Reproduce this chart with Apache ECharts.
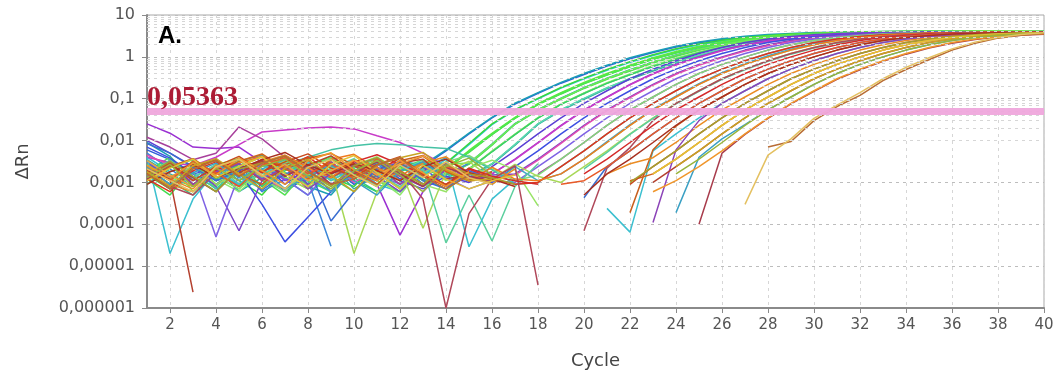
<!DOCTYPE html>
<html>
<head>
<meta charset="utf-8">
<script src="https://cdn.jsdelivr.net/npm/echarts@6/dist/echarts.min.js"></script>
<style>
html, body { margin: 0; padding: 0; background: #ffffff; }
#chart { width: 1058px; height: 382px; }
</style>
</head>
<body>
<div id="chart"></div>
<script>
// Amplification plot: delta Rn per cycle on a log scale, one line per well.
const _ = null; // no positive reading at that cycle

const cycles = [1,2,3,4,5,6,7,8,9,10,11,12,13,14,15,16,17,18,19,20,
                21,22,23,24,25,26,27,28,29,30,31,32,33,34,35,36,37,38,39,40];
const xTicks = [2,4,6,8,10,12,14,16,18,20,22,24,26,28,30,32,34,36,38,40];
const yTicks = [0.000001,0.00001,0.0001,0.001,0.01,0.1,1,10];
const yTickLabels = ['0,000001','0,00001','0,0001','0,001','0,01','0,1','1','10'];
const threshold = 0.05363;

// Earliest wells (blue / green)
const earlyRuns = [
  [.006,.0035,.0016,.0021,.0008,.0019,.0006,.0014,.0026,.0009, .0017,.0007,.0024,.0057,.0145,.035,.074,.135,.235,.38, .6,.9,1.27,1.71,2.16,2.6,2.95,3.22,3.43,3.58, 3.7,3.77,3.82,3.86,3.88,3.9,3.92,3.93,3.94,3.95],
  [.009,.0042,.0011,.0024,.0006,.0013,.0029,.0008,.0005,.0021, .0011,.0032,.0026,.006,.015,.036,.078,.14,.245,.40, .63,.95,1.33,1.8,2.27,2.72,3.1,3.4,3.62,3.8, 3.92,4.0,4.05,4.08,4.1,4.12,4.13,4.14,4.15,4.15],
  [.004,.0018,.0028,.0007,.0019,.0031,.0012,.0005,.0016,.0027, .0009,.0006,.0018,.0028,.008,.024,.054,.10,.18,.30, .48,.74,1.08,1.5,1.95,2.4,2.8,3.1,3.35,3.52, 3.65,3.74,3.8,3.85,3.88,3.9,3.91,3.92,3.93,3.94],
  [.0015,.0007,.0026,.0033,.0011,.0005,.0021,.0034,.0013,.0008, .0029,.0012,.0021,.0029,.0085,.025,.055,.102,.185,.31, .5,.77,1.12,1.56,2.03,2.5,2.92,3.24,3.5,3.68, 3.82,3.91,3.97,4.01,4.04,4.06,4.07,4.08,4.09,4.1],
  [.002,.0031,.0006,.0017,.0024,.0041,.0013,.0007,.0022,.0035, .0011,.0006,.0019,.002,.0055,.014,.035,.074,.135,.235, .38,.6,.9,1.27,1.71,2.16,2.6,2.95,3.22,3.43, 3.58,3.7,3.77,3.82,3.86,3.88,3.9,3.91,3.92,3.93],
  [.0012,.0005,.0023,.0014,.0007,.0026,.0038,.0019,.0009,.0014, .0033,.0024,.0011,.0022,.0052,.0138,.034,.072,.13,.228, .37,.58,.87,1.23,1.66,2.1,2.52,2.86,3.12,3.32, 3.46,3.56,3.62,3.66,3.69,3.71,3.72,3.73,3.74,3.75],
  [.003,.0013,.0008,.0027,.0036,.0011,.0007,.0024,.0042,.0017, .0009,.0021,.0035,.0021,.0058,.0148,.036,.076,.14,.245, .4,.63,.95,1.34,1.8,2.28,2.75,3.13,3.42,3.65, 3.82,3.95,4.03,4.09,4.13,4.16,4.18,4.19,4.2,4.21],
  [.0025,.0011,.0005,.0019,.0008,.0028,.0037,.0009,.0021,.0013, .0006,.0024,.0031,.0013,.0028,.008,.025,.054,.10,.18, .30,.48,.74,1.08,1.5,1.95,2.4,2.8,3.1,3.35, 3.52,3.65,3.74,3.8,3.85,3.88,3.9,3.91,3.92,3.93],
  [.0018,.004,.0014,.0006,.0029,.0012,.0005,.0022,.0039,.0016, .0008,.0027,.0011,.0016,.0027,.0078,.0245,.053,.098,.176, .29,.46,.71,1.03,1.43,1.86,2.28,2.66,2.95,3.18, 3.34,3.46,3.54,3.59,3.63,3.65,3.67,3.68,3.69,3.7],
  [.005,.0021,.0009,.0016,.0027,.0006,.0012,.0011,3e-5,_, .0013,.0028,.0009,.0015,.0029,.0082,.0255,.055,.103,.184, .31,.49,.76,1.11,1.54,2.0,2.46,2.87,3.18,3.43, 3.6,3.73,3.82,3.88,3.92,3.95,3.97,3.98,3.99,4.0],
  [.0014,.0033,.0009,.0024,.0038,.0014,.0007,.0026,.0011,.0022, .0036,.0015,.0008,.0017,.002,.0055,.014,.035,.074,.135, .235,.38,.6,.9,1.27,1.71,2.16,2.6,2.95,3.22, 3.43,3.58,3.7,3.77,3.82,3.86,3.88,3.9,3.91,3.92],
  [.0022,.0009,.0034,.0012,.0006,.0018,.0031,.0015,.0007,.0028, .0013,.0005,.0024,.0011,.0021,.0056,.0142,.0355,.075,.137, .24,.39,.62,.93,1.31,1.77,2.24,2.7,3.07,3.36, 3.58,3.74,3.86,3.94,3.99,4.03,4.05,4.07,4.08,4.09],
  [.0017,.0007,.0025,.0011,.0028,.0008,.0019,.0036,.0013,.0006, .0023,.0009,.0031,.0016,.0013,.0028,.008,.025,.054,.10, .18,.30,.48,.74,1.08,1.5,1.95,2.4,2.8,3.1, 3.35,3.52,3.65,3.74,3.8,3.85,3.88,3.9,3.91,3.92],
  [.0035,.0016,.0008,.0021,.0032,.0045,.0017,.0009,.0026,.0007, .0015,.0031,.0012,.0007,.0015,.0027,.0078,.0243,.052,.097, .174,.29,.46,.71,1.03,1.43,1.86,2.28,2.65,2.94, 3.16,3.32,3.43,3.5,3.55,3.58,3.6,3.61,3.62,3.63],
  [.0028,.0012,.0031,.0009,.0022,.0014,.0035,.0011,.0006,.0024, .0017,.0038,.0015,.0022,.0054,.0142,.0345,.073,.133,.232, .375,.59,.88,1.25,1.69,2.14,2.57,2.92,3.19,3.4, 3.55,3.66,3.73,3.78,3.82,3.84,3.86,3.87,3.88,3.89],
  [.0016,.0034,.0013,.0008,.0025,.0041,.0017,.0009,.0028,.0013, .0021,.0007,.0016,.0027,.0029,.0081,.0252,.055,.101,.182, .305,.485,.75,1.1,1.52,1.98,2.43,2.83,3.14,3.39, 3.57,3.7,3.79,3.85,3.89,3.92,3.94,3.95,3.96,3.97],
  [.0009,.0023,.0035,.0012,.0019,.0008,.0026,.0014,.0031,.0011, .0006,.0018,.0029,.0013,.0021,.0054,.0138,.0345,.073,.133, .232,.375,.59,.88,1.25,1.69,2.14,2.57,2.92,3.19, 3.4,3.55,3.66,3.73,3.78,3.82,3.84,3.86,3.87,3.88],
  [.0031,.0014,.0022,.0037,.0013,.0007,.0021,.0029,.0012,.0026, .0009,.0019,.0034,.0014,.0011,.0028,.0081,.0252,.055,.102, .183,.305,.49,.755,1.1,1.53,1.99,2.45,2.86,3.17, 3.42,3.6,3.73,3.82,3.88,3.92,3.95,3.97,3.98,3.99]
];

// Second wave (purple / violet / magenta)
const midRuns = [
  [.01,.005,.0024,.0011,.0019,.0031,.0009,.0022,.0006,.0017, .0028,.0011,.0007,.0014,.001,.0024,.0057,.0145,.035,.077, .155,.3,.51,.81,1.2,1.68,2.2,2.67,3.07,3.37, 3.57,3.7,3.79,3.85,3.88,3.9,3.91,3.92,3.93,3.93],
  [.025,.015,.007,.0065,.007,.003,.0011,.0024,.0009,.002, .0009,5.5e-5,.0006,.0021,.0012,.0016,.0036,.009,.023,.054, .11,.22,.40,.66,1.0,1.45,1.95,2.45,2.9,3.25, 3.5,3.65,3.75,3.82,3.87,3.9,3.91,3.92,3.93,3.94],
  [.004,.003,.0025,.004,.008,.016,.018,.02,.021,.019, .013,.009,.005,.0025,.0018,.0016,.0035,.0088,.0225,.053, .108,.215,.39,.64,.97,1.4,1.88,2.36,2.78,3.1, 3.32,3.46,3.55,3.6,3.63,3.65,3.66,3.67,3.68,3.68],
  [.007,.0038,.0016,.0009,.0018,.0003,3.8e-5,.00015,.0006,.0019, .0031,.0012,.0023,.0008,.0016,.001,.0024,.0057,.0145,.035, .077,.155,.3,.51,.81,1.2,1.68,2.2,2.67,3.07, 3.37,3.57,3.7,3.79,3.85,3.88,3.9,3.91,3.92,3.92],
  [.003,.0013,.0024,.0008,7e-5,.0011,.0025,.0009,.0017,.0032, .0014,.0006,.0021,.0028,.0011,.0015,.0016,.0036,.009,.023, .054,.11,.22,.40,.66,1.0,1.45,1.95,2.45,2.9, 3.25,3.5,3.65,3.75,3.82,3.87,3.9,3.91,3.92,3.93],
  [.0045,.0026,.0011,.0022,.0035,.0013,.0007,.0018,.0027,.001, .0019,.0033,.0016,.0008,.0021,.0013,.0015,.0034,.0086,.022, .052,.106,.212,.385,.63,.96,1.38,1.85,2.32,2.74, 3.06,3.28,3.42,3.51,3.57,3.6,3.62,3.63,3.64,3.65],
  [.0016,.0008,.0019,5e-5,.0015,.0027,.0012,.0005,.0021,.0034, .0016,.0009,.0025,.0013,.0007,.0011,.001,.0024,.0057,.0145, .035,.077,.155,.3,.51,.81,1.2,1.68,2.2,2.67, 3.07,3.37,3.57,3.7,3.79,3.85,3.88,3.9,3.91,3.92],
  [.012,.007,.0035,.005,.021,.011,.004,.0016,.0031,.0012, .0024,.0009,.0018,.0029,.0013,.0018,_,.0016,.0036,.009, .023,.054,.11,.22,.40,.66,1.0,1.45,1.95,2.45, 2.9,3.25,3.5,3.65,3.75,3.82,3.87,3.9,3.9,3.91]
];

// Third wave (pale green / teal / cyan)
const tealRuns = [
  [.0013,.0029,.0008,.0017,.0034,.0012,.0006,.0023,.0038,.0014, .0009,.0027,.0017,.0031,.0044,.0021,.0011,.0015,.0036,.009, .023,.054,.11,.22,.40,.66,1.0,1.45,1.95,2.45, 2.9,3.25,3.5,3.65,3.75,3.82,3.87,3.9,3.9,3.91],
  [.0021,.0009,.0017,.0007,.0024,.0013,.0027,.004,.006,.0075, .0085,.008,.007,.0065,.004,.002,.0009,.001,.0024,.0057, .0145,.035,.077,.155,.3,.51,.81,1.2,1.68,2.2, 2.67,3.07,3.37,3.57,3.7,3.79,3.85,3.88,3.9,3.91],
  [.0011,.0024,.0037,.0014,.0007,.0019,.0033,.0016,.0008,.0025, .0041,.0018,.0009,.0006,.0022,.0034,.002,.00028,_,.0036, .009,.023,.054,.11,.22,.40,.66,1.0,1.45,1.95, 2.45,2.9,3.25,3.5,3.65,3.75,3.82,3.87,3.9,3.91],
  [.0019,.0007,.0013,.0026,.0011,.0021,.0035,.0013,.0006,.0017, .0029,.0011,.0022,.0039,.0016,.0009,.0024,.0011,.0016,.0036, .0095,.024,.056,.115,.23,.42,.7,1.06,1.53,2.05, 2.57,3.03,3.38,3.62,3.78,3.88,3.94,3.98,4.0,4.02],
  [.0024,.0011,.0026,.0009,.0017,.0031,.0014,.0007,.0021,2e-5, .0006,.0023,8e-5,.0018,.0032,.0012,.0027,.0014,.001,.0024, .0057,.0145,.035,.077,.155,.3,.51,.81,1.2,1.68, 2.2,2.67,3.07,3.37,3.57,3.7,3.79,3.85,3.88,3.9],
  [.0015,.0034,.0013,.0027,.0009,.0016,.0029,.0011,.0022,.0037, .0015,.0008,.0021,3.6e-5,.0005,4e-5,.0008,.0028,_,.0021, .0052,.014,.034,.075,.15,.29,.49,.78,1.16,1.62, 2.12,2.58,2.97,3.26,3.46,3.58,3.66,3.71,3.74,3.76],
  [.004,2e-5,.0004,.0019,.0009,.0026,.0014,.0031,.0011,.0021, .0008,.0027,.0015,.0036,2.9e-5,.0004,.0012,_,_,_, .00024,6.5e-5,.0057,.0145,.035,.077,.155,.3,.51,.81, 1.2,1.68,2.2,2.67,3.07,3.37,3.57,3.7,3.79,3.85]
];

// Fourth wave (red / orange / brown, a few blue and purple)
const lateRuns = [
  [.0012,.0006,.0019,.0031,.0014,.0036,.0022,.0041,.0017,.0033, .0019,.0038,.0015,.0008,.0021,.0012,.0009,.001,.0024,.0057, .0145,.035,.077,.155,.3,.51,.81,1.2,1.68,2.2, 2.67,3.07,3.37,3.57,3.7,3.79,3.85,3.9,3.93,3.95],
  [.002,.0009,.0006,.0021,.0029,.0042,.0024,.0013,.0036,.0047, .0021,.0014,.0031,.0019,.0011,.0023,.0012,.0011,.0016,.0036, .009,.023,.054,.11,.22,.40,.66,1.0,1.45,1.95, 2.45,2.9,3.25,3.5,3.65,3.75,3.82,3.87,3.92,3.96],
  [.0016,.0008,.0005,.0017,.0028,.0011,.0021,.0034,.0013,.0025, .0012,.0019,.0004,1e-6,.00018,.0012,.0025,3.5e-6,_,7e-5, .0022,.0068,.03,.077,.155,.3,.51,.81,1.2,1.68, 2.2,2.67,3.07,3.37,3.57,3.7,3.79,3.85,3.88,3.9],
  [.0013,.0028,.0009,.0019,.0037,.0017,.0044,.0023,.0013,.0031, .0046,.0027,.0016,.0009,.0022,.0014,.0011,.0009,_,.0016, .0036,.009,.023,.054,.11,.22,.40,.66,1.0,1.45, 1.95,2.45,2.9,3.25,3.5,3.65,3.75,3.82,3.87,3.9],
  [.0017,.0008,.0023,.0035,.0016,.0009,.0027,.0038,.0049,.0026, .0015,.0033,.0044,.0021,.0011,.0018,_,_,_,_, _,.00019,.006,.022,.054,.11,.22,.40,.66,1.0, 1.45,1.95,2.45,2.9,3.25,3.5,3.65,3.75,3.82,3.87],
  [.0085,.005,.0023,.0011,.0019,.00065,.0016,.0024,.00012,.0006, .0021,.0029,.0011,.0007,.0019,.0012,_,_,_,.00043, .0024,.0057,.0145,.035,.077,.155,.3,.51,.81,1.2, 1.68,2.2,2.67,3.07,3.37,3.57,3.7,3.79,3.85,3.88],
  [.0024,.0012,.0007,.0026,.0015,.0031,.0045,.0022,.0013,.0034, .0023,.0011,.0029,.0041,.0017,.0009,.0021,_,_,_, .0016,.0028,.0039,.009,.023,.054,.11,.22,.40,.66, 1.0,1.45,1.95,2.45,2.9,3.25,3.5,3.65,3.75,3.82],
  [.0014,.0032,.0009,.0018,.0028,.0012,.0023,.0007,.0016,.0025, .0038,.0014,.0008,.0021,.0019,_,_,_,_,_, _,_,.00011,.006,.03,.077,.155,.3,.51,.81, 1.2,1.68,2.2,2.67,3.07,3.37,3.57,3.7,3.79,3.85],
  [.0011,.0024,.0037,.0016,.0032,.0048,.0021,.0012,.0035,.0018, .0009,.0026,.0042,.0018,.0011,.0012,_,_,_,_, _,.0011,.0016,.0036,.009,.023,.054,.11,.22,.40, .66,1.0,1.45,1.95,2.45,2.9,3.25,3.5,3.65,3.75],
  [.0019,.0012,2.4e-6,_,.0017,.0032,.0014,.0026,.0043,.0019, .0011,.0029,.0036,.0012,.0016,_,_,_,_,_, _,_,.001,.0024,.0057,.0145,.035,.077,.155,.3, .51,.81,1.2,1.68,2.2,2.67,3.07,3.37,3.57,3.7],
  [.0023,.0009,.0017,.0029,.0013,.0021,.0007,.0014,.0027,.0011, .0005,.0019,.0031,.0013,_,_,_,_,_,_, _,_,_,.00019,.004,.011,.024,.054,.11,.22, .40,.66,1.0,1.45,1.95,2.45,2.9,3.25,3.5,3.65],
  [.0012,.0026,.0013,.0006,.0021,.0034,.0014,.0027,.0009,.0016, .0031,.0016,.0008,.0023,.0014,.0011,_,_,_,_, _,_,_,_,.0001,.005,.014,.034,.075,.15, .29,.49,.78,1.16,1.62,2.12,2.58,2.97,3.26,3.46],
  [.0021,.0011,.0032,.0017,.0008,.0026,.0039,.0016,.0029,.0012, .0037,.0019,.0009,.0024,.0017,.0013,_,_,.0009,.0011, .0024,.0057,.0145,.035,.077,.155,.3,.51,.81,1.2, 1.68,2.2,2.67,3.07,3.37,3.57,3.7,3.79,3.85,3.88],
  [.0016,.0029,.0011,.0024,.0042,.0018,.0031,.0048,.0022,.0014, .0027,.0041,.0016,.0009,.0019,_,_,_,_,_, _,.0009,.0024,.0057,.0145,.035,.077,.155,.3,.51, .81,1.2,1.68,2.2,2.67,3.07,3.37,3.57,3.7,3.79],
  [.0033,.0015,.0008,.0023,.0036,.0014,.0027,.0011,.0019,.0034, .0015,.0028,.0043,.0021,.0012,_,_,_,_,_, _,_,.0016,.0036,.009,.023,.054,.11,.22,.40, .66,1.0,1.45,1.95,2.45,2.9,3.25,3.5,3.65,3.75],
  [.0009,.0018,.0027,.0013,.0021,.0035,.0052,.0026,.0016,.0028, .0019,.0011,.0024,.0036,.0017,.0012,.0008,_,_,.0005, .0016,.0036,.009,.023,.054,.11,.22,.40,.66,1.0, 1.45,1.95,2.45,2.9,3.25,3.5,3.65,3.75,3.82,3.87]
];

// Fifth wave (olive / yellow / orange)
const yellowRuns = [
  [.0015,.0032,.0014,.0006,.0021,.0029,.0043,.0018,.0008,.0025, .0039,.0018,.0009,.0027,.0016,.0013,.0009,_,_,_, _,.001,.0024,.0057,.0145,.035,.077,.155,.3,.51, .81,1.2,1.68,2.2,2.67,3.07,3.37,3.57,3.7,3.79],
  [.0011,.0022,.0036,.0013,.0024,.0041,.0016,.0008,.0027,.0044, .0017,.0007,.0026,.0012,.0007,.0011,.0015,_,_,_, _,_,.0016,.0036,.009,.023,.054,.11,.22,.40, .66,1.0,1.45,1.95,2.45,2.9,3.25,3.5,3.65,3.75],
  [.0026,.0013,.0029,.0015,.0038,.0019,.0009,.0033,.0051,.002, .0011,.0034,.0017,.0008,.0018,_,_,_,_,_, _,_,.0006,.0011,.0024,.0057,.0145,.035,.077,.155, .3,.51,.81,1.2,1.68,2.2,2.67,3.07,3.37,3.57],
  [.0018,.0008,.0025,.0037,.0016,.0007,.0022,.0035,.0015,.0006, .0026,.0039,.0052,.002,.0011,.0012,_,_,_,_, _,_,_,.0024,.0057,.0145,.035,.077,.155,.3, .51,.81,1.2,1.68,2.2,2.67,3.07,3.37,3.57,3.7],
  [.0013,.0027,.0008,.0022,.0011,.0024,.0036,.0014,.0007,.0019, .0033,.0015,.0006,.0024,.0038,.0015,_,_,_,_, _,_,_,.0016,.0036,.009,.023,.054,.11,.22, .40,.66,1.0,1.45,1.95,2.45,2.9,3.25,3.5,3.65]
];

// Latest wells
const lastRuns = [
  [.0016,.0007,.0021,.0034,.0014,.0029,.0043,.0018,.0009,.0012, .0026,.0039,.0014,.0007,.0015,_,_,_,_,_, _,_,_,_,_,_,_,.007,.0095,.03, .065,.12,.27,.5,.85,1.45,2.1,2.8,3.3,3.65],
  [.0021,.0011,.0006,.0024,.0036,.0015,.0007,.0023,.0035,.0015, .0008,.0026,.0013,.0031,.0013,.0009,_,_,_,_, _,_,_,_,_,_,.0003,.0045,.011,.034, .07,.14,.3,.56,.95,1.55,2.25,2.9,3.4,3.75]
];

// Line colours per group
const earlyColors  = ['#2f5fd8','#1b9fb5','#2cc3d6','#3ad83a','#80e838','#44dc50','#5ee840','#30c880','#52e052','#3b86d8','#6ee04a','#90e870','#46d070','#33aaa2','#4ee84e','#6cf050','#38d068','#5ad8b0'];
const midColors    = ['#5b3fd4','#9a30d2','#c83cc8','#3d4fe2','#7a44c6','#e04cb0','#7f62e4','#a8409c'];
const tealColors   = ['#80da7a','#45c2a4','#98e466','#40a8c8','#a8d858','#5ccf9e','#3cc0d0'];
const lateColors   = ['#e0321e','#f07a1e','#b0485a','#d42a2a','#c8601e','#3a6ed0','#eb8c24','#8c44b8','#d2641a','#b4402e','#3aa0c4','#a83c4c','#e85a28','#c84a1c','#f0a040','#a83020'];
const yellowColors = ['#a4a030','#e2c236','#f0962c','#c8a424','#98b43c'];
const lastColors   = ['#b86c34','#e4c060'];

const chart = echarts.init(document.getElementById('chart'), null, { renderer: 'canvas' });

// faint horizontal lines at 2..9 of every decade
const minorLevels = [];
for (let e = -6; e < 1; e++) {
  for (let m = 2; m <= 9; m++) minorLevels.push(Number((m * Math.pow(10, e)).toPrecision(2)));
}

const series = [];
series.push({
  type: 'line', silent: true, z: 1, animation: false,
  data: cycles.map(c => [c, '-']),
  markLine: {
    silent: true, symbol: 'none', animation: false,
    label: { show: false },
    lineStyle: { color: '#d6d6d6', type: [3, 4], width: 1 },
    data: minorLevels.map(v => ({ yAxis: v }))
  }
});

const groups = [
  [earlyRuns, earlyColors], [midRuns, midColors], [tealRuns, tealColors],
  [lateRuns, lateColors], [yellowRuns, yellowColors], [lastRuns, lastColors]
];
groups.forEach(([runs, colors]) => {
  runs.forEach((row, i) => {
    series.push({
      type: 'line', symbol: 'none', silent: true, animation: false, z: 3,
      connectNulls: false,
      lineStyle: { width: 1.5, color: colors[i] },
      itemStyle: { color: colors[i] },
      data: cycles.map((c, k) => [c, row[k] === null ? '-' : row[k]])
    });
  });
});

// threshold line with its value
series.push({
  type: 'line', silent: true, z: 10, animation: false,
  data: cycles.map(c => [c, '-']),
  markLine: {
    silent: true, symbol: 'none', animation: false,
    lineStyle: { color: '#efa6dc', width: 7, type: 'solid', opacity: 0.95 },
    label: {
      show: true, position: 'insideStartTop', distance: [0, 0],
      formatter: String(threshold).replace('.', ','),
      color: '#a8102a', fontFamily: 'Liberation Serif', fontWeight: 'bold', fontSize: 28
    },
    data: [{ yAxis: threshold }]
  }
});

const axisText = { color: '#555555', fontFamily: 'DejaVu Sans' };

chart.setOption({
  backgroundColor: '#ffffff',
  animation: false,
  grid: { left: 147, right: 14, top: 15, bottom: 74, show: true, borderColor: '#a8a8a8', borderWidth: 1 },
  xAxis: {
    type: 'value', min: 1, max: 40, interval: 1,
    name: 'Cycle', nameLocation: 'middle', nameGap: 44,
    nameTextStyle: { color: '#444', fontFamily: 'DejaVu Sans', fontSize: 18 },
    axisLine: { show: true, lineStyle: { color: '#8a8a8a', width: 2 } },
    axisTick: { show: true, length: 5, customValues: xTicks, lineStyle: { color: '#8a8a8a' } },
    axisLabel: Object.assign({ fontSize: 15, margin: 10, customValues: xTicks }, axisText),
    splitLine: { show: true, lineStyle: { color: '#d6d6d6', type: [3, 4], width: 1 } }
  },
  yAxis: {
    type: 'log', logBase: 10, min: yTicks[0], max: yTicks[yTicks.length - 1], splitNumber: 7,
    name: 'ΔRn', nameLocation: 'middle', nameGap: 115, nameRotate: 90,
    nameTextStyle: { color: '#444', fontFamily: 'DejaVu Sans', fontSize: 18 },
    axisLine: { show: true, lineStyle: { color: '#8a8a8a', width: 2 } },
    axisTick: { show: true, length: 5, lineStyle: { color: '#8a8a8a' } },
    axisLabel: Object.assign({
      fontSize: 16, margin: 12,
      formatter: v => yTickLabels[Math.round(Math.log10(v)) + 6]
    }, axisText),
    splitLine: { show: true, lineStyle: { color: '#bdbdbd', type: [3, 4], width: 1 } }
  },
  graphic: [{
    type: 'text', left: 158, top: 24, z: 20,
    style: { text: 'A.', font: 'bold 24px "Liberation Sans"', fill: '#000000' }
  }],
  series: series
});
</script>
</body>
</html>
